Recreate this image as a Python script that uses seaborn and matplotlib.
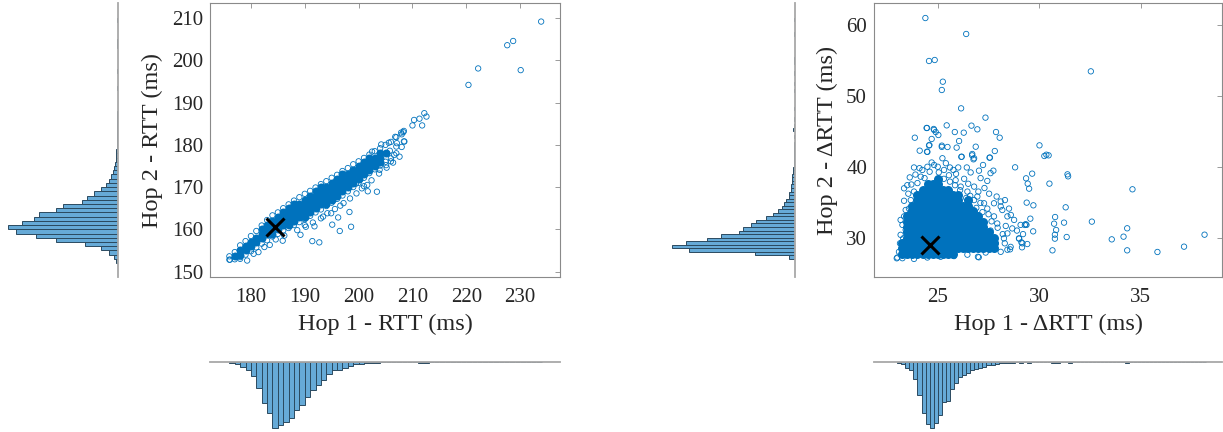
import matplotlib
matplotlib.use("Agg")
import matplotlib.pyplot as plt
import seaborn as sns

BLUE = "#0072BD"
BAR = "#66AAD7"
BAR_EDGE = "#2b4a60"
AXC = "#8a8a8a"
TXT = "#262626"

# ---------------- left panel: RTT ----------------
rtt_median = (184.5, 160.5)

# dense core of the cloud (x, [y values])
rtt_core = [
    (177, [153.7]),
    (178, [154, 155]),
    (179, [155, 156]),
    (180, [156, 157]),
    (181, [157, 158]),
    (182, [158, 159, 160]),
    (183, [159, 160, 161]),
    (184, [159, 160, 161, 162]),
    (185, [160, 161, 162, 163]),
    (186, [161, 162, 163, 164]),
    (187, [161, 162, 163, 164, 165]),
    (188, [162, 163, 164, 165, 166]),
    (189, [163, 164, 165, 166]),
    (190, [163, 164, 165, 166, 167]),
    (191, [164, 165, 166, 167, 168]),
    (192, [165, 166, 167, 168, 169]),
    (193, [166, 167, 168, 169, 170]),
    (194, [166, 167, 168, 169, 170]),
    (195, [167, 168, 169, 170, 171]),
    (196, [168, 169, 170, 171, 172]),
    (197, [169, 170, 171, 172, 173]),
    (198, [170, 171, 172, 173]),
    (199, [171, 172, 173, 174]),
    (200, [172, 173, 174, 175]),
    (201, [173, 174, 175, 176]),
    (202, [174, 175, 176, 177]),
    (203, [175, 176, 177]),
    (204, [176, 177, 178]),
    (205, [178]),
]

# edge of the cloud and scattered points
rtt_points = [
    # upper edge
    (176, 153.6), (177, 154.6), (178, 156.2), (179, 157.2), (180, 158.4), (181, 159.6),
    (182, 160.9), (183, 162.2), (184, 163.3), (185, 164.0), (186, 165.0), (187, 165.9),
    (188, 166.8), (189, 167.6), (190, 168.4), (191, 169.1), (192, 169.9), (193, 170.7),
    (194, 171.4), (195, 172.2), (196, 172.9), (197, 173.8), (198, 174.5), (199, 175.4),
    (200, 176.1), (201, 176.9), (202, 177.7), (203, 178.5), (204, 179.2), (205, 180.0),
    (206, 180.7), (207, 181.8), (208, 182.5),
    # lower edge
    (176, 152.8), (177, 152.9), (178, 153.4), (179, 154.0), (180, 154.8), (181, 155.7),
    (182, 156.6), (183, 157.4), (184, 158.3), (185, 158.9), (186, 159.7), (187, 160.3),
    (188, 161.0), (189, 161.7), (190, 162.4), (191, 163.2), (192, 164.0), (193, 164.7),
    (194, 165.5), (195, 166.3), (196, 167.2), (197, 168.0), (198, 169.0), (199, 170.0),
    (200, 171.0), (201, 172.2), (202, 173.3), (203, 174.2), (204, 175.1), (205, 176.0),
    (206, 176.8), (207, 178.0), (208, 179.5),
    # below the band
    (178.0, 153.0), (180.5, 154.2), (182.5, 155.8), (184.6, 157.6), (186.2, 158.5),
    (188.6, 159.8), (190.2, 160.6), (191.5, 161.6), (193.0, 162.6), (194.2, 163.8),
    (195.6, 164.8), (197.2, 166.2), (198.4, 167.3), (199.6, 168.5), (201.0, 170.2),
    (202.4, 171.6), (203.8, 173.2), (205.2, 174.6), (206.4, 175.8), (207.6, 177.2),
    (202.5, 178.4), (204.2, 180.1), (205.6, 180.5), (206.8, 181.9), (207.9, 182.9),
    (208.3, 183.0), (208.5, 180.8), (207.0, 179.6), (205.8, 178.6), (206.6, 177.6),
    # outliers
    (233.9, 209.2), (228.7, 204.6), (227.6, 203.6), (222.2, 198.1), (230.1, 197.7),
    (220.4, 194.2), (212.2, 187.5), (212.6, 186.7), (211.3, 186.2), (210.3, 185.9),
    (210.0, 184.6), (211.8, 184.6), (208.4, 183.3), (208.4, 180.8), (207.1, 180.4),
    (206.0, 176.1), (205.1, 175.2), (203.9, 174.1), (205.3, 178.0), (201.7, 169.0),
    (203.4, 168.9), (201.6, 170.5), (200.6, 169.7), (199.5, 170.8), (198.3, 164.1),
    (198.6, 160.6), (196.5, 159.6), (196.2, 162.8), (196.6, 165.6), (195.1, 161.1),
    (194.9, 163.8), (193.4, 163.0), (191.4, 157.2), (192.7, 156.9), (191.8, 160.7),
    (190.0, 161.0), (189.2, 158.7), (185.9, 157.3), (183.5, 156.3), (181.4, 154.6),
    (179.3, 152.6), (176.1, 152.8),
]

# marginal histogram of Hop 1 RTT (bin width 1 ms, lower edges)
rtt1_bins = [176, 177, 178, 179, 180, 181, 182, 183, 184, 185, 186, 187, 188, 189, 190,
             191, 192, 193, 194, 195, 196, 197, 198, 199, 200, 201, 202, 203, 204, 205,
             206, 207, 208, 210, 211, 212, 220, 222, 227, 228, 230, 233]
rtt1_counts = [2, 7, 15, 24, 42, 77, 123, 152, 197, 190, 180, 167, 143, 128, 104,
               85, 68, 53, 35, 25, 24, 18, 13, 7, 5, 4, 2, 2, 1, 1,
               1, 1, 1, 1, 2, 2, 1, 1, 1, 1, 1, 1]

# marginal histogram of Hop 2 RTT (bin width 1 ms, lower edges)
rtt2_bins = [152, 153, 154, 155, 156, 157, 158, 159, 160, 161, 162, 163, 164, 165, 166,
             167, 168, 169, 170, 171, 172, 173, 174, 175, 176, 177, 178, 179, 180, 181,
             182, 183, 184, 185, 186, 187, 193, 197, 203, 204, 209]
rtt2_counts = [4, 9, 26, 48, 98, 183, 243, 303, 327, 285, 251, 235, 183, 162, 105,
               90, 69, 48, 33, 25, 18, 12, 10, 7, 5, 4, 3, 2, 2, 1,
               1, 1, 1, 1, 1, 1, 1, 2, 1, 1, 1]

# ---------------- right panel: delta RTT ----------------
drtt_median = (24.64, 28.97)

drtt_core = [
    (23.25, [27.75, 28.5, 29.25]),
    (23.50, [27.75, 28.5, 29.25, 30.0, 30.75, 31.5, 32.25, 33.0]),
    (23.75, [27.75, 28.5, 29.25, 30.0, 30.75, 31.5, 32.25, 33.0, 33.75, 34.5]),
    (24.00, [27.75, 28.5, 29.25, 30.0, 30.75, 31.5, 32.25, 33.0, 33.75, 34.5, 35.25, 36.0]),
    (24.25, [27.75, 28.5, 29.25, 30.0, 30.75, 31.5, 32.25, 33.0, 33.75, 34.5, 35.25, 36.0, 36.75]),
    (24.50, [27.75, 28.5, 29.25, 30.0, 30.75, 31.5, 32.25, 33.0, 33.75, 34.5, 35.25, 36.0, 36.75, 37.5]),
    (24.75, [27.75, 28.5, 29.25, 30.0, 30.75, 31.5, 32.25, 33.0, 33.75, 34.5, 35.25, 36.0, 36.75, 37.5]),
    (25.00, [27.75, 28.5, 29.25, 30.0, 30.75, 31.5, 32.25, 33.0, 33.75, 34.5, 35.25, 36.0, 36.75, 37.5, 38.25]),
    (25.25, [27.75, 28.5, 29.25, 30.0, 30.75, 31.5, 32.25, 33.0, 33.75, 34.5, 35.25, 36.0, 36.75]),
    (25.50, [27.75, 28.5, 29.25, 30.0, 30.75, 31.5, 32.25, 33.0, 33.75, 34.5, 35.25, 36.0, 36.75]),
    (25.75, [27.75, 28.5, 29.25, 30.0, 30.75, 31.5, 32.25, 33.0, 33.75, 34.5, 35.25, 36.0]),
    (26.00, [28.5, 29.25, 30.0, 30.75, 31.5, 32.25, 33.0, 33.75, 34.5, 35.25, 36.0]),
    (26.25, [28.5, 29.25, 30.0, 30.75, 31.5, 32.25, 33.0, 33.75, 34.5]),
    (26.50, [28.5, 29.25, 30.0, 30.75, 31.5, 32.25, 33.0, 33.75, 34.5, 35.25]),
    (26.75, [28.5, 29.25, 30.0, 30.75, 31.5, 32.25, 33.0, 33.75]),
    (27.00, [28.5, 29.25, 30.0, 30.75, 31.5, 32.25, 33.0]),
    (27.25, [28.5, 29.25, 30.0, 30.75, 31.5, 32.25]),
    (27.50, [28.5, 29.25, 30.0, 30.75]),
    (27.75, [28.5, 29.25, 30.0]),
]

drtt_points = [
    # edge of the cloud
    (23.83, 39.9), (23.62, 38.5), (23.50, 37.4), (23.34, 36.96), (23.34, 35.2), (23.42, 33.9),
    (23.17, 32.5), (23.14, 29.2), (23.01, 27.2), (23.42, 31.1), (26.79, 37.2), (26.95, 35.8),
    (27.53, 36.2), (28.10, 35.1), (28.31, 35.3), (27.77, 34.85), (28.51, 34.1), (28.18, 33.9),
    (28.43, 33.0), (28.76, 32.5), (28.67, 31.3), (29.08, 31.8), (29.33, 31.9), (29.00, 29.9),
    (29.17, 29.2), (29.41, 29.1), (28.59, 28.7), (28.43, 28.3), (28.10, 28.0), (26.98, 27.3),
    (27.36, 27.9), (27.60, 28.5), (27.85, 29.2), (28.26, 29.9), (28.43, 30.6), (28.35, 31.65),
    (27.93, 32.0), (27.77, 33.0), (27.44, 34.1), (27.28, 34.85), (26.79, 35.3), (26.46, 36.5),
    (26.13, 37.2), (25.88, 38.1), (25.55, 38.8), (25.31, 39.55), (24.82, 40.25), (24.49, 40.0),
    (24.24, 39.55), (24.16, 38.6), (24.00, 37.7), (23.83, 36.5), (23.67, 35.3), (23.58, 34.1),
    (23.34, 33.0), (23.26, 31.8), (23.17, 30.4), (23.09, 28.0), (23.26, 27.1), (23.83, 27.0),
    (24.49, 27.2), (25.14, 27.3), (25.80, 27.4), (26.46, 27.6), (23.30, 29.9), (23.45, 28.6),
    (25.05, 39.2), (24.60, 39.3), (25.60, 37.9), (26.10, 36.7), (26.60, 35.9), (27.10, 34.9),
    (27.50, 33.3), (27.95, 31.4), (28.20, 30.5), (28.30, 29.2), (27.60, 31.0), (24.35, 38.4),
    (23.90, 38.9), (24.10, 39.8), (24.70, 40.6), (25.00, 40.0), (25.40, 40.5), (25.60, 39.9),
    (25.90, 39.0), (26.30, 38.3), (26.50, 37.6), (27.00, 36.5), (27.30, 37.0), (27.90, 35.8),
    (28.10, 34.4), (28.60, 33.2), (28.90, 31.0), (29.20, 30.5), (23.55, 36.2), (23.70, 37.5),
    (25.30, 38.3), (25.85, 37.4), (26.40, 35.6), (26.90, 34.2), (27.20, 33.6), (27.65, 32.3),
    # fringe above the cloud
    (24.45, 45.47), (24.82, 45.2), (24.90, 44.9), (24.57, 43.0), (25.20, 42.8), (25.93, 42.7),
    (24.49, 42.1), (25.23, 41.2), (26.16, 41.4), (26.70, 41.8), (26.79, 41.2), (27.57, 41.3),
    (27.74, 39.45), (27.23, 40.25), (26.43, 39.9), (26.62, 39.2), (26.01, 39.9), (25.77, 39.55),
    (27.03, 39.45), (27.11, 38.4), (27.44, 38.0), (27.60, 39.1),
    # outliers
    (24.39, 60.98), (26.40, 58.73), (24.57, 54.92), (24.85, 55.06), (25.25, 52.0), (25.20, 50.83),
    (32.54, 53.46), (26.15, 48.24), (27.35, 46.93), (25.44, 45.84), (24.47, 45.47), (24.80, 45.33),
    (26.66, 45.80), (26.95, 45.28), (25.84, 44.90), (26.28, 44.81), (27.87, 44.90), (28.05, 44.10),
    (25.03, 44.48), (23.87, 44.10), (24.70, 43.92), (26.05, 43.63), (25.20, 42.98), (24.59, 43.07),
    (25.48, 42.79), (26.87, 42.83), (30.01, 43.02), (30.25, 41.52), (30.46, 41.61), (30.35, 41.7),
    (24.11, 42.27), (24.47, 42.13), (27.81, 42.22), (26.18, 41.42), (26.69, 41.61), (26.76, 41.05),
    (27.55, 41.28), (28.81, 39.92), (29.65, 39.03), (29.35, 38.37), (29.43, 37.62), (29.50, 36.91),
    (31.39, 38.93), (31.42, 38.65), (30.50, 37.62), (34.59, 36.82), (29.38, 34.94), (29.71, 34.56),
    (31.30, 34.28), (29.56, 32.68), (30.78, 32.91), (30.73, 31.97), (31.22, 32.12), (32.59, 32.26),
    (29.29, 31.79), (29.37, 31.8), (29.70, 30.89), (30.83, 31.08), (30.77, 30.42), (30.77, 29.86),
    (31.35, 30.09), (33.57, 29.76), (34.15, 30.14), (34.33, 31.32), (34.33, 28.21), (35.82, 27.98),
    (37.13, 28.73), (38.14, 30.42), (30.65, 28.21), (29.01, 29.86), (29.12, 29.34), (29.15, 28.64),
    (28.56, 28.35), (27.02, 27.23), (22.98, 27.09),
]

# marginal histogram of Hop 1 delta RTT (bin width 0.2 ms, lower edges)
drtt1_bins = [23.0, 23.2, 23.4, 23.6, 23.8, 24.0, 24.2, 24.4, 24.6, 24.8, 25.0, 25.2, 25.4,
              25.6, 25.8, 26.0, 26.2, 26.4, 26.6, 26.8, 27.0, 27.2, 27.4, 27.6, 27.8, 28.0,
              28.2, 28.4, 28.6, 28.8, 29.0, 29.2, 29.4, 29.6, 30.0, 30.2, 30.4, 30.6, 30.8,
              31.2, 31.4, 32.4, 32.6, 33.4, 34.0, 34.2, 34.4, 35.8, 37.0, 38.0]
drtt1_counts = [2, 6, 18, 23, 52, 98, 153, 185, 197, 183, 160, 120, 116,
                80, 62, 46, 40, 32, 25, 22, 17, 14, 10, 8, 6, 4,
                3, 2, 2, 1, 2, 1, 2, 1, 1, 1, 1, 2, 3,
                1, 2, 1, 1, 1, 1, 2, 1, 1, 1, 1]

# marginal histogram of Hop 2 delta RTT (bin width 0.5 ms, lower edges)
drtt2_bins = [27.0, 27.5, 28.0, 28.5, 29.0, 29.5, 30.0, 30.5, 31.0, 31.5, 32.0, 32.5, 33.0,
              33.5, 34.0, 34.5, 35.0, 35.5, 36.0, 36.5, 37.0, 37.5, 38.0, 38.5, 39.0, 39.5,
              40.0, 40.5, 41.0, 41.5, 42.0, 42.5, 43.0, 44.0, 45.0, 45.5, 46.5, 48.0, 50.5,
              51.5, 53.0, 54.5, 55.0, 58.5, 60.5]
drtt2_counts = [15, 117, 316, 365, 324, 262, 220, 165, 154, 130, 114, 85, 65,
                50, 37, 30, 25, 17, 15, 11, 10, 8, 7, 6, 5, 3,
                2, 2, 2, 2, 2, 1, 1, 2, 3, 1, 1, 1, 1,
                1, 1, 1, 1, 1, 1]

sns.set_style("white")
plt.rcParams["font.family"] = ["Liberation Serif", "DejaVu Serif"]

fig = plt.figure(figsize=(12.23, 4.32), dpi=100)
W, H = 1223, 432


def box(l, t, r, b):
    return [l / W, 1 - b / H, (r - l) / W, (b - t) / H]


def draw_panel(ax_s, ax_hx, ax_hy, core, points, median, xb, xc, xw, yb, yc, yw,
               xlim, ylim, xticks, yticks, xlabel, ylabel, core_s, hx_max, hy_max):
    cx = [x for x, ys in core for _ in ys]
    cy = [y for _, ys in core for y in ys]
    sns.scatterplot(x=cx, y=cy, ax=ax_s, color=BLUE, s=core_s, linewidth=0, marker="o")
    px = [p[0] for p in points]
    py = [p[1] for p in points]
    sns.scatterplot(x=px, y=py, ax=ax_s, s=15, facecolor="none", edgecolor=BLUE,
                    linewidth=0.6, marker="o")
    ax_s.plot([median[0]], [median[1]], marker="x", color="k", ms=13, mew=2.2, ls="none")
    ax_s.set_xlim(*xlim)
    ax_s.set_ylim(*ylim)
    ax_s.set_xticks(xticks)
    ax_s.set_yticks(yticks)
    ax_s.tick_params(axis="both", direction="in", length=3.5, width=0.6, colors=AXC,
                     labelcolor=TXT, labelsize=15, top=True, right=True)
    ax_s.tick_params(axis="x", pad=8)
    ax_s.tick_params(axis="y", pad=5)
    for sp in ax_s.spines.values():
        sp.set_color(AXC)
        sp.set_linewidth(0.8)
    ax_s.set_xlabel(xlabel, fontsize=17.5, color=TXT, labelpad=5)
    ax_s.set_ylabel(ylabel, fontsize=17.5, color=TXT, labelpad=6)

    # bottom histogram (bars hang down)
    sns.histplot(x=[b + xw / 2 for b in xb], weights=xc, binwidth=xw,
                 binrange=(xb[0], xb[-1] + xw), ax=ax_hx, color=BAR, alpha=1,
                 edgecolor=BAR_EDGE, linewidth=0.7)
    ax_hx.set_xlim(*xlim)
    ax_hx.set_ylim(hx_max, 0)
    # side histogram (bars point left)
    sns.histplot(y=[b + yw / 2 for b in yb], weights=yc, binwidth=yw,
                 binrange=(yb[0], yb[-1] + yw), ax=ax_hy, color=BAR, alpha=1,
                 edgecolor=BAR_EDGE, linewidth=0.7)
    ax_hy.set_ylim(*ylim)
    ax_hy.set_xlim(hy_max, 0)
    for ax, keep in ((ax_hx, "top"), (ax_hy, "right")):
        ax.set_xticks([])
        ax.set_yticks([])
        ax.set_xlabel("")
        ax.set_ylabel("")
        ax.patch.set_alpha(0)
        for name, sp in ax.spines.items():
            sp.set_visible(name == keep)
            sp.set_color("#a8a8a8")
            sp.set_linewidth(1.3)


ax1 = fig.add_axes(box(210, 3, 560, 277))
ax1x = fig.add_axes(box(210, 362, 560, 432))
ax1y = fig.add_axes(box(0, 3, 117.5, 277))
draw_panel(ax1, ax1x, ax1y, rtt_core, rtt_points, rtt_median,
           rtt1_bins, rtt1_counts, 1.0, rtt2_bins, rtt2_counts, 1.0,
           (172.4, 237.4), (148.7, 213.6), [180, 190, 200, 210, 220, 230],
           [150, 160, 170, 180, 190, 200, 210],
           "Hop 1 - RTT (ms)", "Hop 2 - RTT (ms)", 33, 210, 352)

ax2 = fig.add_axes(box(874, 3, 1222, 277))
ax2x = fig.add_axes(box(874, 362, 1222, 432))
ax2y = fig.add_axes(box(660, 3, 794.5, 277))
draw_panel(ax2, ax2x, ax2y, drtt_core, drtt_points, drtt_median,
           drtt1_bins, drtt1_counts, 0.2, drtt2_bins, drtt2_counts, 0.5,
           (21.86, 39.0), (24.45, 63.1), [25, 30, 35], [30, 40, 50, 60],
           "Hop 1 - ΔRTT (ms)", "Hop 2 - ΔRTT (ms)", 42, 210, 402)

fig.savefig("out.png", dpi=100)
